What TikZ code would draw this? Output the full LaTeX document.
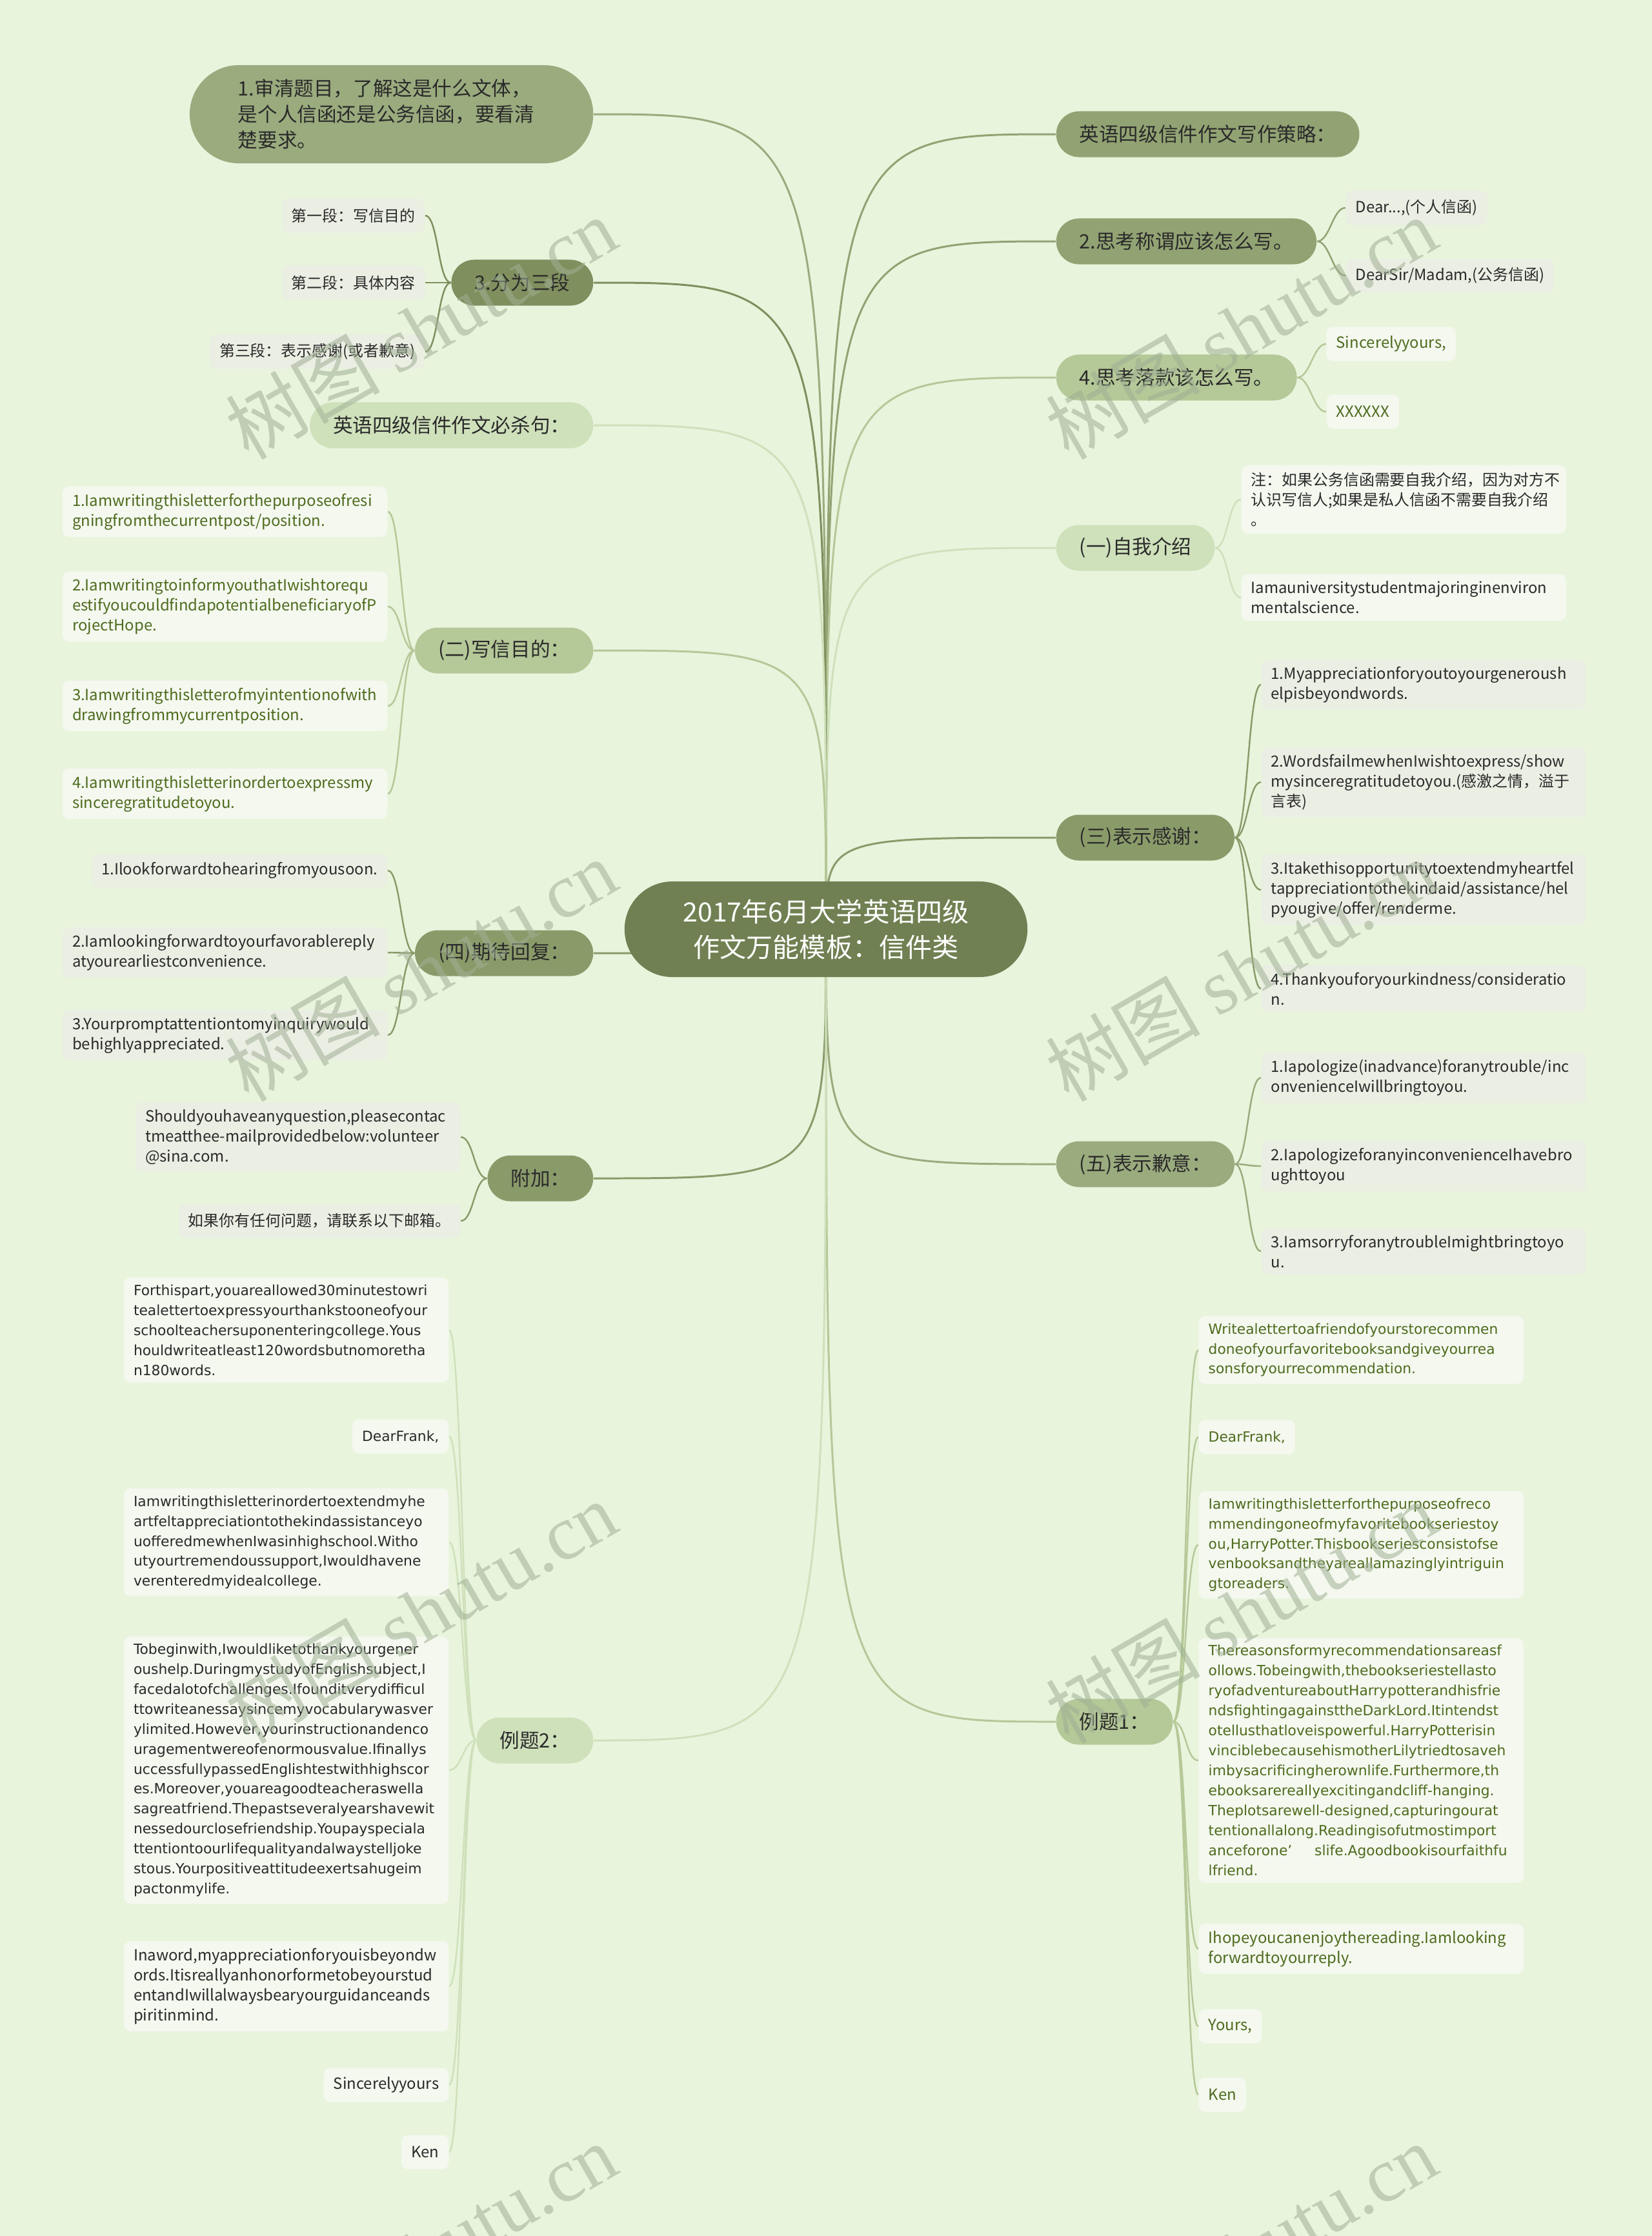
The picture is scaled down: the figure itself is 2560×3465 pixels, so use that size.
\documentclass[tikz,border=0pt]{standalone}
\usepackage{fontspec}
\setmainfont{Noto Sans CJK SC}
\newfontfamily\dejavu{DejaVu Sans}
\newfontfamily\wmserif{Liberation Serif}
\usetikzlibrary{backgrounds}

\definecolor{bgc}{HTML}{E8F4DC}
\definecolor{rootc}{HTML}{708052}
\definecolor{c1}{HTML}{7F8F5E}
\definecolor{c2}{HTML}{92A373}
\definecolor{c2b}{HTML}{9AAB7E}
\definecolor{c3}{HTML}{8A9B6A}
\definecolor{c4}{HTML}{B5C898}
\definecolor{c5}{HTML}{CFE1BB}
\definecolor{leafgray}{HTML}{EBEEE3}
\definecolor{leafwhite}{HTML}{F4F8EF}
\definecolor{leafgreen}{HTML}{4E6B1E}
\definecolor{txtc}{HTML}{2A2A2A}
\definecolor{wmc}{HTML}{9FB094}

\tikzset{
  rootnode/.style={fill=rootc, text=white, rounded corners=0.74cm, minimum height=1.48cm,
    minimum width=6.24cm, align=center, font=\fontsize{11.7}{15.6}\selectfont},
  topic/.style={rounded corners=0.355cm, minimum height=0.71cm, inner xsep=0.36cm,
    inner ysep=0pt, text=txtc, font=\fontsize{8.7}{11.4}\selectfont},
  leaf/.style={rounded corners=0.1cm, minimum height=0.53cm, inner xsep=0.15cm,
    inner ysep=0.11cm, align=left, text=txtc, font=\fontsize{6.8}{8.8}\selectfont},
  gbox/.style={leaf, fill=leafgray},
  wbox/.style={leaf, fill=leafwhite},
  para/.style={text width=4.73cm},
  grn/.style={text=leafgreen},
  wide/.style={font=\dejavu\fontsize{6.2}{8.8}\selectfont},
  mainln/.style={draw=#1, line width=0.85pt},
  rbr/.style={draw=#1, line width=0.7pt, out=0, in=180, out distance=0.2cm, in distance=0.2cm},
  lbr/.style={draw=#1, line width=0.7pt, out=180, in=0, out distance=0.2cm, in distance=0.2cm},
  wm/.style={rotate=30, text=wmc, opacity=0.55, font=\fontsize{34}{40}\selectfont}
}

\begin{document}
\begin{tikzpicture}[x=0.01cm, y=-0.01cm]
\useasboundingbox (0,0) rectangle (2560,3465);
\begin{scope}[on background layer]
  \fill[bgc] (0,0) rectangle (2560,3465);
\end{scope}

% root
\node[rootnode] (root) at (1280,1440) {2017年6月大学英语四级\\作文万能模板：信件类};

% right side
\node[topic, fill=c2, anchor=west] (celue) at (1636,208) {英语四级信件作文写作策略：};
\node[topic, fill=c2, anchor=west] (chengwei) at (1636,374) {2.思考称谓应该怎么写。};
\node[topic, fill=c4, anchor=west] (luokuan) at (1636,585) {4.思考落款该怎么写。};
\node[topic, fill=c5, anchor=west] (ziwo) at (1636,849) {(一)自我介绍};
\node[topic, fill=c3, anchor=west] (ganxie) at (1636,1298) {(三)表示感谢：};
\node[topic, fill=c2b, anchor=west] (qianyi) at (1636,1804) {(五)表示歉意：};
\node[topic, fill=c4, anchor=west] (li1) at (1636,2668) {例题1：};

\node[gbox, anchor=west] (cw1) at (2085,322) {Dear...,(个人信函)};
\node[gbox, anchor=west] (cw2) at (2085,427) {DearSir/Madam,(公务信函)};

\node[wbox, grn, anchor=west] (lk1) at (2055,533) {Sincerelyyours,};
\node[wbox, grn, anchor=west] (lk2) at (2055,638) {XXXXXX};

\node[wbox, para, anchor=west] (zw1) at (1923,774) {注：如果公务信函需要自我介绍，因为对方不\\认识写信人;如果是私人信函不需要自我介绍\\。};
\node[wbox, para, anchor=west] (zw2) at (1923,926) {Iamauniversitystudentmajoringinenviron\\mentalscience.};

\node[gbox, para, anchor=west] (gx1) at (1954,1061) {1.Myappreciationforyoutoyourgeneroush\\elpisbeyondwords.};
\node[gbox, para, anchor=west] (gx2) at (1954,1212) {2.WordsfailmewhenIwishtoexpress/show\\mysinceregratitudetoyou.(感激之情，溢于\\言表)};
\node[gbox, para, anchor=west] (gx3) at (1954,1379) {3.Itakethisopportunitytoextendmyheartfel\\tappreciationtothekindaid/assistance/hel\\pyougive/offer/renderme.};
\node[gbox, para, anchor=west] (gx4) at (1954,1532) {4.Thankyouforyourkindness/consideratio\\n.};

\node[gbox, para, anchor=west] (qy1) at (1954,1670) {1.Iapologize(inadvance)foranytrouble/inc\\onvenienceIwillbringtoyou.};
\node[gbox, para, anchor=west] (qy2) at (1954,1807) {2.IapologizeforanyinconvenienceIhavebro\\ughttoyou};
\node[gbox, para, anchor=west] (qy3) at (1954,1939) {3.IamsorryforanytroubleImightbringtoyo\\u.};

\node[wbox, para, wide, grn, anchor=west] (la1) at (1857,2092) {Writealettertoafriendofyourstorecommen\\doneofyourfavoritebooksandgiveyourrea\\sonsforyourrecommendation.};
\node[wbox, wide, grn, anchor=west] (la2) at (1857,2227) {DearFrank,};
\node[wbox, para, wide, grn, anchor=west] (la3) at (1857,2394) {Iamwritingthisletterforthepurposeofreco\\mmendingoneofmyfavoritebookseriestoy\\ou,HarryPotter.Thisbookseriesconsistofse\\venbooksandtheyareallamazinglyintriguin\\gtoreaders.};
\node[wbox, para, wide, grn, anchor=west] (la4) at (1857,2728) {Thereasonsformyrecommendationsareasf\\ollows.Tobeingwith,thebookseriestellasto\\ryofadventureaboutHarrypotterandhisfrie\\ndsfightingagainsttheDarkLord.Itintendst\\otellusthatloveispowerful.HarryPotterisin\\vinciblebecausehismotherLilytriedtosaveh\\imbysacrificingherownlife.Furthermore,th\\ebooksarereallyexcitingandcliff-hanging.\\Theplotsarewell-designed,capturingourat\\tentionallalong.Readingisofutmostimport\\anceforone’\kern1.6em slife.Agoodbookisourfaithfu\\lfriend.};
\node[wbox, para, grn, anchor=west] (la5) at (1857,3020) {Ihopeyoucanenjoythereading.Iamlooking\\forwardtoyourreply.};
\node[wbox, grn, anchor=west] (la6) at (1857,3140) {Yours,};
\node[wbox, grn, anchor=west] (la7) at (1857,3246) {Ken};

% left side
\node[topic, fill=c2b, anchor=east, align=left, text width=4.75cm, minimum height=1.52cm,
  rounded corners=0.76cm, inner xsep=0.75cm] (shenti) at (920,177) {1.审清题目，了解这是什么文体，\\是个人信函还是公务信函，要看清\\楚要求。};
\node[topic, fill=c1, anchor=east] (sanduan) at (920,438) {3.分为三段};
\node[topic, fill=c5, anchor=east] (bisha) at (920,659) {英语四级信件作文必杀句：};
\node[topic, fill=c4, anchor=east] (mudi) at (920,1008) {(二)写信目的：};
\node[topic, fill=c3, anchor=east] (qidai) at (920,1477) {(四)期待回复：};
\node[topic, fill=c3, anchor=east] (fujia) at (920,1826) {附加：};
\node[topic, fill=c5, anchor=east] (li2) at (920,2697) {例题2：};

\node[gbox, anchor=east] (sd1) at (659,334) {第一段：写信目的};
\node[gbox, anchor=east] (sd2) at (659,438) {第二段：具体内容};
\node[gbox, anchor=east] (sd3) at (659,545) {第三段：表示感谢(或者歉意)};

\node[wbox, para, grn, anchor=east] (md1) at (601,793) {1.Iamwritingthisletterforthepurposeofresi\\gningfromthecurrentpost/position.};
\node[wbox, para, grn, anchor=east] (md2) at (601,940) {2.IamwritingtoinformyouthatIwishtorequ\\estifyoucouldfindapotentialbeneficiaryofP\\rojectHope.};
\node[wbox, para, grn, anchor=east] (md3) at (601,1094) {3.Iamwritingthisletterofmyintentionofwith\\drawingfrommycurrentposition.};
\node[wbox, para, grn, anchor=east] (md4) at (601,1230) {4.Iamwritingthisletterinordertoexpressmy\\sinceregratitudetoyou.};

\node[gbox, anchor=east] (qd1) at (601,1349) {1.Ilookforwardtohearingfromyousoon.};
\node[gbox, para, anchor=east] (qd2) at (601,1476) {2.Iamlookingforwardtoyourfavorablereply\\atyourearliestconvenience.};
\node[gbox, para, anchor=east] (qd3) at (601,1604) {3.Yourpromptattentiontomyinquirywould\\behighlyappreciated.};

\node[gbox, para, anchor=east] (fj1) at (714,1762) {Shouldyouhaveanyquestion,pleasecontac\\tmeatthee-mailprovidedbelow:volunteer\\@sina.com.};
\node[gbox, anchor=east] (fj2) at (714,1892) {如果你有任何问题，请联系以下邮箱。};

\node[wbox, para, wide, anchor=east] (lb1) at (696,2061) {Forthispart,youareallowed30minutestowri\\tealettertoexpressyourthankstooneofyour\\schoolteachersuponenteringcollege.Yous\\houldwriteatleast120wordsbutnomoretha\\n180words.};
\node[wbox, wide, anchor=east] (lb2) at (696,2226) {DearFrank,};
\node[wbox, para, wide, anchor=east] (lb3) at (696,2390) {Iamwritingthisletterinordertoextendmyhe\\artfeltappreciationtothekindassistanceyo\\uofferedmewhenIwasinhighschool.Witho\\utyourtremendoussupport,Iwouldhavene\\verenteredmyidealcollege.};
\node[wbox, para, wide, anchor=east] (lb4) at (696,2743) {Tobeginwith,Iwouldliketothankyourgener\\oushelp.DuringmystudyofEnglishsubject,I\\facedalotofchallenges.Ifounditverydifficul\\ttowriteanessaysincemyvocabularywasver\\ylimited.However,yourinstructionandenco\\uragementwereofenormousvalue.Ifinallys\\uccessfullypassedEnglishtestwithhighscor\\es.Moreover,youareagoodteacheraswella\\sagreatfriend.Thepastseveralyearshavewit\\nessedourclosefriendship.Youpayspeciala\\ttentiontoourlifequalityandalwaystelljoke\\stous.Yourpositiveattitudeexertsahugeim\\pactonmylife.};
\node[wbox, para, anchor=east] (lb5) at (696,3078) {Inaword,myappreciationforyouisbeyondw\\ords.Itisreallyanhonorformetobeyourstud\\entandIwillalwaysbearyourguidanceands\\piritinmind.};
\node[wbox, anchor=east] (lb6) at (696,3231) {Sincerelyyours};
\node[wbox, anchor=east] (lb7) at (696,3335) {Ken};

% connectors
\begin{scope}[on background layer]
  \draw[mainln=c2] (root.center) .. controls (root.center |- celue.west) .. (celue.west);
  \draw[mainln=c2] (root.center) .. controls (root.center |- chengwei.west) .. (chengwei.west);
  \draw[mainln=c4] (root.center) .. controls (root.center |- luokuan.west) .. (luokuan.west);
  \draw[mainln=c5] (root.center) .. controls (root.center |- ziwo.west) .. (ziwo.west);
  \draw[mainln=c3] (root.center) .. controls (root.center |- ganxie.west) .. (ganxie.west);
  \draw[mainln=c2b] (root.center) .. controls (root.center |- qianyi.west) .. (qianyi.west);
  \draw[mainln=c4] (root.center) .. controls (root.center |- li1.west) .. (li1.west);

  \draw[mainln=c2b] (root.center) .. controls (root.center |- shenti.east) .. (shenti.east);
  \draw[mainln=c1] (root.center) .. controls (root.center |- sanduan.east) .. (sanduan.east);
  \draw[mainln=c5] (root.center) .. controls (root.center |- bisha.east) .. (bisha.east);
  \draw[mainln=c4] (root.center) .. controls (root.center |- mudi.east) .. (mudi.east);
  \draw[mainln=c3] (root.center) .. controls (root.center |- qidai.east) .. (qidai.east);
  \draw[mainln=c3] (root.center) .. controls (root.center |- fujia.east) .. (fujia.east);
  \draw[mainln=c5] (root.center) .. controls (root.center |- li2.east) .. (li2.east);

  \draw[rbr=c2] (chengwei.east) to (cw1.west) (chengwei.east) to (cw2.west);
  \draw[rbr=c4] (luokuan.east) to (lk1.west) (luokuan.east) to (lk2.west);
  \draw[rbr=c5] (ziwo.east) to (zw1.west) (ziwo.east) to (zw2.west);
  \foreach \n in {gx1,gx2,gx3,gx4} \draw[rbr=c3] (ganxie.east) to (\n.west);
  \foreach \n in {qy1,qy2,qy3} \draw[rbr=c2b] (qianyi.east) to (\n.west);
  \foreach \n in {la1,la2,la3,la4,la5,la6,la7} \draw[rbr=c4] (li1.east) to (\n.west);

  \foreach \n in {sd1,sd2,sd3} \draw[lbr=c1] (sanduan.west) to (\n.east);
  \foreach \n in {md1,md2,md3,md4} \draw[lbr=c4] (mudi.west) to (\n.east);
  \foreach \n in {qd1,qd2,qd3} \draw[lbr=c3] (qidai.west) to (\n.east);
  \draw[lbr=c3] (fujia.west) to (fj1.east) (fujia.west) to (fj2.east);
  \foreach \n in {lb1,lb2,lb3,lb4,lb5,lb6,lb7} \draw[lbr=c5] (li2.west) to (\n.east);
\end{scope}

% watermarks
\foreach \wx in {652,1923} {
  \foreach \wy in {508,1503,2498,3493} {
    \node[wm] at (\wx,\wy) {树图 {\wmserif shutu.cn}};
  }
}
\end{tikzpicture}
\end{document}
